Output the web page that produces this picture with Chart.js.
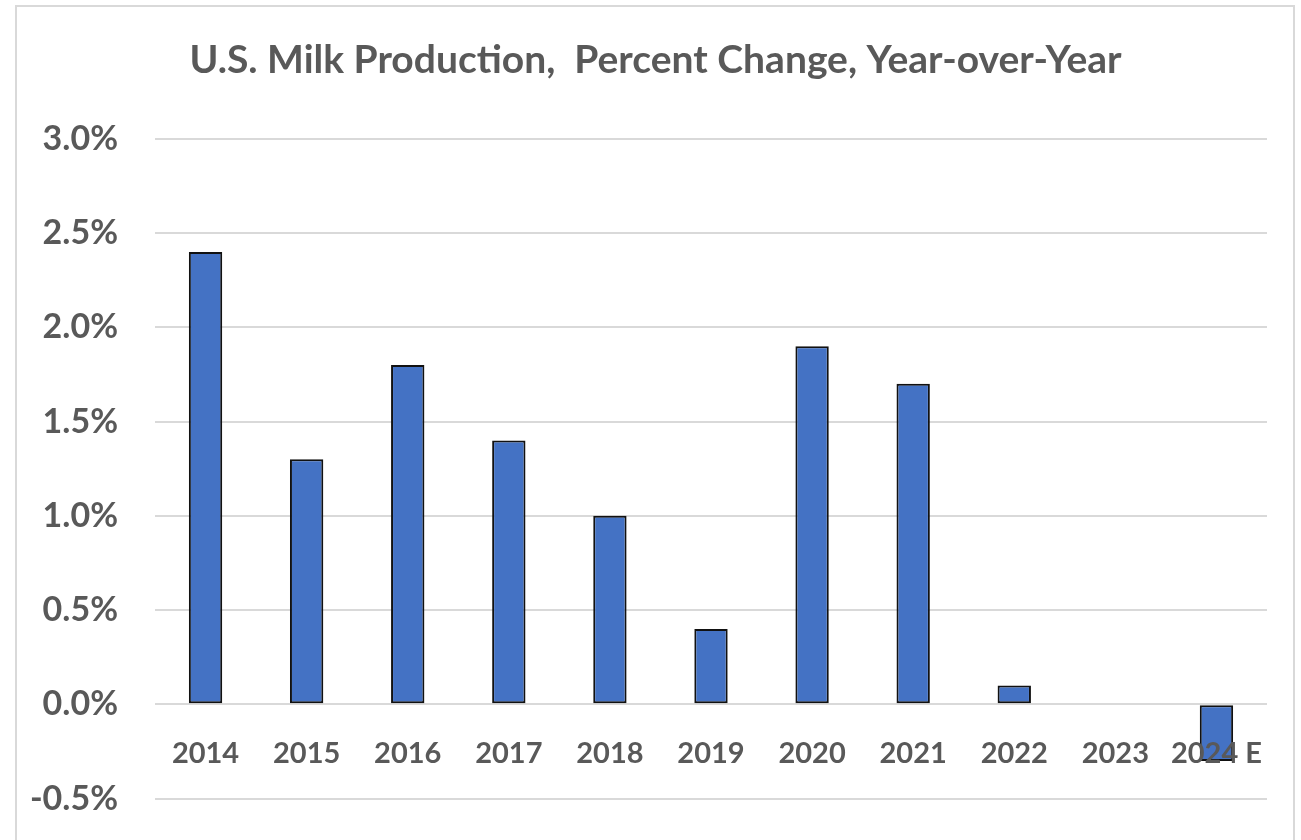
<!DOCTYPE html>
<html>
<head>
<meta charset="utf-8">
<title>U.S. Milk Production</title>
<script src="https://cdn.jsdelivr.net/npm/chart.js@4"></script>
<style>
  html, body { margin: 0; padding: 0; background: #fff; overflow: hidden; }
  #wrap { position: relative; width: 1301px; height: 840px; overflow: hidden; }
  #frame {
    position: absolute; left: 15px; top: 5px; width: 1276px; height: 900px;
    border: 2px solid #d9d9d9; pointer-events: none;
  }
</style>
</head>
<body>
<div id="wrap">
  <!-- canvas runs a little past the bottom edge of the page -->
  <canvas id="milkChart" width="1301" height="856"></canvas>
  <div id="frame"></div>
</div>
<script>
// Year-over-year change in U.S. milk production, percent
const years = ['2014', '2015', '2016', '2017', '2018', '2019', '2020', '2021', '2022', '2023', '2024 E'];
const pctChange = [2.4, 1.3, 1.8, 1.4, 1.0, 0.4, 1.9, 1.7, 0.1, 0.0, -0.3];

// Value axis range
const yMin = -0.5;
const yMax = 3.0;
const yStep = 0.5;

const textColor = '#595959';
const fontFamily = 'Lato, "Liberation Sans", Arial, sans-serif';

// nudge the title a little to the right of the canvas centre
const titleShift = {
    id: 'titleShift',
    afterLayout(chart) {
        chart.titleBlock.left += 22;
        chart.titleBlock.right += 22;
    }
};

const ctx = document.getElementById('milkChart').getContext('2d');

let milkChart = new Chart(ctx, {
    type: 'bar',
    data: {
        labels: years,
        datasets: [{
            label: 'Percent change',
            data: pctChange,
            backgroundColor: '#4472c4',
            borderColor: '#111111',
            borderWidth: 2,
            borderSkipped: false,
            barPercentage: 0.33,
            categoryPercentage: 1.0
        }]
    },
    options: {
        responsive: false,
        animation: false,
        layout: {
            padding: { left: 0, right: 34, top: 0, bottom: 26 }
        },
        plugins: {
            legend: { display: false },
            tooltip: { enabled: false },
            title: {
                display: true,
                text: 'U.S. Milk Production,  Percent Change, Year-over-Year',
                color: textColor,
                font: { family: fontFamily, size: 39, weight: 'bold' },
                padding: { top: 37, bottom: 55 }
            }
        },
        scales: {
            x: {
                position: { y: 0 },
                grid: { display: false },
                border: { display: false },
                ticks: {
                    z: 1, // year labels are drawn over the negative bar
                    color: textColor,
                    font: { family: fontFamily, size: 29, weight: 'bold' },
                    padding: 24,
                    maxRotation: 0,
                    autoSkip: false
                },
                // labels sit on the zero line, so the axis takes no room at the bottom
                afterFit: (scale) => { scale.height = 0; }
            },
            y: {
                min: yMin,
                max: yMax,
                grid: { color: '#d9d9d9', lineWidth: 2, drawTicks: false },
                border: { display: false },
                ticks: {
                    stepSize: yStep,
                    color: textColor,
                    font: { family: fontFamily, size: 34, weight: 'bold' },
                    padding: 37,
                    callback: (v) => v.toFixed(1) + '%'
                },
                afterFit: (scale) => { scale.width = 155; }
            }
        }
    },
    plugins: [titleShift]
});
</script>
</body>
</html>
